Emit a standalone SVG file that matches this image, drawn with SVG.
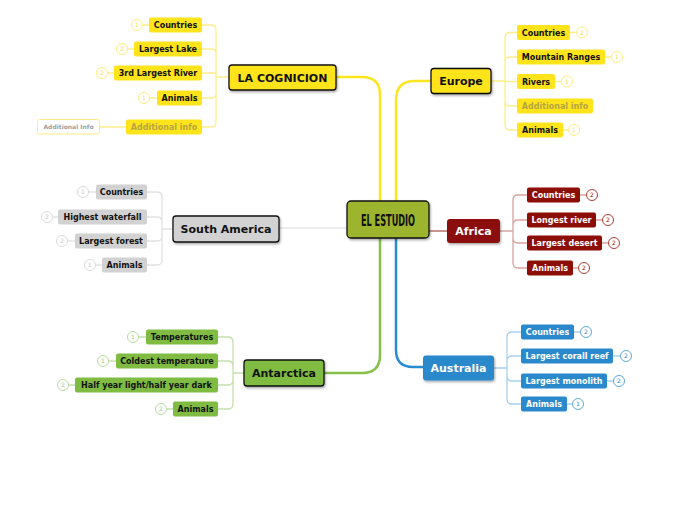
<svg xmlns="http://www.w3.org/2000/svg" width="696" height="520" viewBox="0 0 696 520">
<defs>
<filter id="sh" x="-20%" y="-30%" width="140%" height="170%">
<feDropShadow dx="1" dy="1.5" stdDeviation="1" flood-color="#000" flood-opacity="0.35"/>
</filter>
</defs>
<style>
text{font-family:"DejaVu Sans","Verdana",sans-serif;font-weight:bold;text-anchor:middle}
.main text{font-size:11px}
.c text{font-size:8px}
.b text{font-size:6px;font-weight:normal}
.mainbox{stroke:#111;stroke-width:1.3;filter:url(#sh)}
.y rect{fill:#ffe41c}
.g rect{fill:#d2d2d2}
.r rect{fill:#8c0e07}
.gr rect{fill:#80bc42}
.bl rect{fill:#2a89cb}
.w text{fill:#fff}
.k text{fill:#111}
.fade{fill:#b5a442}
.b circle{fill:#fff;stroke-width:1}
.by circle{stroke:#fdec84}.by text{fill:#f5dc60}
.bg circle{stroke:#dcdcdc}.bg text{fill:#c8c8c8}
.br circle{stroke:#a8403a}.br text{fill:#8c0e07}
.bgr circle{stroke:#b9dc9f}.bgr text{fill:#9ccc78}
.bb circle{stroke:#5fa8dd}.bb text{fill:#2a89cb}
#connectors path{fill:none}
.ly{stroke:#fdef8c;stroke-width:1.3}
.lg{stroke:#e2e2e2;stroke-width:1.3}
.lr{stroke:#d9a3a0;stroke-width:1.3}
.lgr{stroke:#c3e0ae;stroke-width:1.3}
.lb{stroke:#a9d1ef;stroke-width:1.3}
</style>
<rect width="696" height="520" fill="#fff"/>
<g id="connectors">
<!-- main -->
<path d="M336,77 H362 Q380,77 380,95 V201" stroke="#fde51f" stroke-width="2.5"/>
<path d="M396,201 V100 Q396,81 415,81 H431" stroke="#fde51f" stroke-width="2.5"/>
<path d="M279,228 H347" stroke="#e6e6e6" stroke-width="1.5"/>
<path d="M429,231 H447" stroke="#9a2a25" stroke-width="1"/>
<path d="M380,238 V355 Q380,373 362,373 H324" stroke="#86c049" stroke-width="2.5"/>
<path d="M396,238 V350 Q396,367 413,367 H423" stroke="#2a8cd0" stroke-width="2.5"/>
<!-- LA COGNICION -->
<path class="ly" d="M229,77 H216 M216,77 V30 Q216,25 211,25 H202 M216,77 V54 Q216,49 211,49 H202 M216,77 V75 Q216,73 214,73 H202 M216,77 V93 Q216,98 211,98 H202 M216,77 V122 Q216,127 211,127 H202"/>
<path class="ly" d="M142.5,25 H149 M127.5,49 H134 M107.5,73 H114 M149.5,98 H157 M100,127 H126"/>
<!-- Europe -->
<path class="ly" d="M491,81 H505 M505,81 V37.5 Q505,32.5 510,32.5 H517 M505,81 V62 Q505,57 510,57 H517 M505,81.5 H517 M505,81 V101 Q505,106 510,106 H517 M505,81 V125 Q505,130 510,130 H517"/>
<path class="ly" d="M570,32.5 H576.5 M605,57 H611.5 M555,81.5 H561.5 M563,130 H568.5"/>
<!-- South America -->
<path class="lg" d="M173,229 H162 M162,229 V197 Q162,192 157,192 H147 M162,229 V222 Q162,217 157,217 H147 M162,229 V236 Q162,241 157,241 H147 M162,229 V260 Q162,265 157,265 H147"/>
<path class="lg" d="M88.5,192 H96 M52.5,217 H58 M67.5,241 H75 M95.5,265 H102"/>
<!-- Africa -->
<path class="lr" d="M500,231 H513 M513,231 V200 Q513,195 518,195 H527 M513,231 V225 Q513,220 518,220 H527 M513,231 V238 Q513,243 518,243 H527 M513,231 V263 Q513,268 518,268 H527"/>
<path class="lr" d="M580,195 H586.5 M596,220 H602.5 M602,243 H608.5 M573,268 H578.5"/>
<!-- Antarctica -->
<path class="lgr" d="M244,373 H233 M233,373 V342 Q233,337 228,337 H218 M233,373 V366 Q233,361 228,361 H218 M233,373 V380 Q233,385 228,385 H218 M233,373 V404 Q233,409 228,409 H218"/>
<path class="lgr" d="M138.5,337 H146 M108.5,361 H116 M68.5,385 H75 M166.5,409 H173"/>
<!-- Australia -->
<path class="lb" d="M494,368 H507 M507,368 V337 Q507,332 512,332 H521 M507,368 V361 Q507,356 512,356 H521 M507,368 V376 Q507,381 512,381 H521 M507,368 V399 Q507,404 512,404 H521"/>
<path class="lb" d="M574,332 H580.5 M613,356 H620.5 M607,381 H613.5 M567,404 H572.5"/>
</g>

<g id="center">
<rect x="347" y="201" width="82" height="37" rx="4" fill="#9db52f" class="mainbox"/>
<text x="388" y="225.5" style="font-family:'DejaVu Sans Condensed','DejaVu Sans',sans-serif;font-size:15px" textLength="54" lengthAdjust="spacingAndGlyphs" fill="#111">EL ESTUDIO</text>
</g>

<g id="la-cognicion" class="main y k">
<rect x="229" y="65" width="107" height="25" rx="3" class="mainbox"/>
<text x="282.5" y="81.5">LA COGNICION</text>
</g>
<g id="europe" class="main y k">
<rect x="431" y="68.5" width="60" height="25" rx="3" class="mainbox"/>
<text x="461" y="85">Europe</text>
</g>
<g id="south-america" class="main g k">
<rect x="173" y="216" width="106" height="26" rx="3" class="mainbox"/>
<text x="226" y="233">South America</text>
</g>
<g id="africa" class="main r w">
<rect x="447" y="219" width="53" height="24" rx="3" style="filter:url(#sh)"/>
<text x="473.5" y="235">Africa</text>
</g>
<g id="antarctica" class="main gr k">
<rect x="244" y="360" width="80" height="26" rx="3" class="mainbox"/>
<text x="284" y="377">Antarctica</text>
</g>
<g id="australia" class="main bl w">
<rect x="423" y="355.5" width="71" height="25" rx="3" style="filter:url(#sh)"/>
<text x="458.5" y="372">Australia</text>
</g>

<!-- LA COGNICION children -->
<g id="lc-countries"><g class="c y k"><rect x="149" y="17.5" width="53" height="15" rx="2"/><text x="175.5" y="28">Countries</text></g><g class="b by"><circle cx="137" cy="25" r="5.5"/><text x="137" y="27">1</text></g></g>
<g id="lc-lake"><g class="c y k"><rect x="134" y="41.5" width="68" height="15" rx="2"/><text x="168" y="52">Largest Lake</text></g><g class="b by"><circle cx="122" cy="49" r="5.5"/><text x="122" y="51">2</text></g></g>
<g id="lc-river"><g class="c y k"><rect x="114" y="65.5" width="88" height="15" rx="2"/><text x="158" y="76">3rd Largest River</text></g><g class="b by"><circle cx="102" cy="73" r="5.5"/><text x="102" y="75">2</text></g></g>
<g id="lc-animals"><g class="c y k"><rect x="157" y="90.5" width="45" height="15" rx="2"/><text x="179.5" y="101">Animals</text></g><g class="b by"><circle cx="144" cy="98" r="5.5"/><text x="144" y="100">1</text></g></g>
<g id="lc-addinfo"><g class="c y"><rect x="126" y="119.5" width="76" height="15" rx="2"/><text x="164" y="130" class="fade">Additional info</text></g></g>
<g id="lc-addinfo-note"><rect x="37.5" y="119.5" width="62" height="14.5" rx="2" fill="#fff" stroke="#fdec84" stroke-width="1"/><text x="68.5" y="129" style="font-size:6px" fill="#a0a0a0">Additional Info</text></g>

<!-- Europe children -->
<g id="eu-countries"><g class="c y k"><rect x="517" y="25" width="53" height="15" rx="2"/><text x="543.5" y="35.5">Countries</text></g><g class="b by"><circle cx="582" cy="32.5" r="5.5"/><text x="582" y="34.5">2</text></g></g>
<g id="eu-mountains"><g class="c y k"><rect x="517" y="49.5" width="88" height="15" rx="2"/><text x="561" y="60">Mountain Ranges</text></g><g class="b by"><circle cx="617" cy="57" r="5.5"/><text x="617" y="59">1</text></g></g>
<g id="eu-rivers"><g class="c y k"><rect x="517" y="74" width="38" height="15" rx="2"/><text x="536" y="84.5">Rivers</text></g><g class="b by"><circle cx="567" cy="81.5" r="5.5"/><text x="567" y="83.5">1</text></g></g>
<g id="eu-addinfo"><g class="c y"><rect x="517" y="98.5" width="76" height="15" rx="2"/><text x="555" y="109" class="fade">Additional info</text></g></g>
<g id="eu-animals"><g class="c y k"><rect x="517" y="122.5" width="46" height="15" rx="2"/><text x="540" y="133">Animals</text></g><g class="b by"><circle cx="574" cy="130" r="5.5"/><text x="574" y="132">1</text></g></g>

<!-- South America children -->
<g id="sa-countries"><g class="c g k"><rect x="96" y="184.5" width="51" height="15" rx="2"/><text x="121.5" y="195">Countries</text></g><g class="b bg"><circle cx="83" cy="192" r="5.5"/><text x="83" y="194">1</text></g></g>
<g id="sa-waterfall"><g class="c g k"><rect x="58" y="209.5" width="89" height="15" rx="2"/><text x="102.5" y="220">Highest waterfall</text></g><g class="b bg"><circle cx="47" cy="217" r="5.5"/><text x="47" y="219">2</text></g></g>
<g id="sa-forest"><g class="c g k"><rect x="75" y="233.5" width="72" height="15" rx="2"/><text x="111" y="244">Largest forest</text></g><g class="b bg"><circle cx="62" cy="241" r="5.5"/><text x="62" y="243">2</text></g></g>
<g id="sa-animals"><g class="c g k"><rect x="102" y="257.5" width="45" height="15" rx="2"/><text x="124.5" y="268">Animals</text></g><g class="b bg"><circle cx="90" cy="265" r="5.5"/><text x="90" y="267">1</text></g></g>

<!-- Africa children -->
<g id="af-countries"><g class="c r w"><rect x="527" y="187.5" width="53" height="15" rx="2"/><text x="553.5" y="198">Countries</text></g><g class="b br"><circle cx="592" cy="195" r="5.5"/><text x="592" y="197">2</text></g></g>
<g id="af-river"><g class="c r w"><rect x="527" y="212.5" width="69" height="15" rx="2"/><text x="561.5" y="223">Longest river</text></g><g class="b br"><circle cx="608" cy="220" r="5.5"/><text x="608" y="222">2</text></g></g>
<g id="af-desert"><g class="c r w"><rect x="527" y="235.5" width="75" height="15" rx="2"/><text x="564.5" y="246">Largest desert</text></g><g class="b br"><circle cx="614" cy="243" r="5.5"/><text x="614" y="245">2</text></g></g>
<g id="af-animals"><g class="c r w"><rect x="527" y="260.5" width="46" height="15" rx="2"/><text x="550" y="271">Animals</text></g><g class="b br"><circle cx="584" cy="268" r="5.5"/><text x="584" y="270">2</text></g></g>

<!-- Antarctica children -->
<g id="an-temps"><g class="c gr k"><rect x="146" y="329.5" width="72" height="15" rx="2"/><text x="182" y="340">Temperatures</text></g><g class="b bgr"><circle cx="133" cy="337" r="5.5"/><text x="133" y="339">1</text></g></g>
<g id="an-coldest"><g class="c gr k"><rect x="116" y="353.5" width="102" height="15" rx="2"/><text x="167" y="364">Coldest temperature</text></g><g class="b bgr"><circle cx="103" cy="361" r="5.5"/><text x="103" y="363">1</text></g></g>
<g id="an-halfyear"><g class="c gr k"><rect x="75" y="377.5" width="143" height="15" rx="2"/><text x="146.5" y="388">Half year light/half year dark</text></g><g class="b bgr"><circle cx="63" cy="385" r="5.5"/><text x="63" y="387">2</text></g></g>
<g id="an-animals"><g class="c gr k"><rect x="173" y="401.5" width="45" height="15" rx="2"/><text x="195.5" y="412">Animals</text></g><g class="b bgr"><circle cx="161" cy="409" r="5.5"/><text x="161" y="411">2</text></g></g>

<!-- Australia children -->
<g id="au-countries"><g class="c bl w"><rect x="521" y="324.5" width="53" height="15" rx="2"/><text x="547.5" y="335">Countries</text></g><g class="b bb"><circle cx="586" cy="332" r="5.5"/><text x="586" y="334">2</text></g></g>
<g id="au-reef"><g class="c bl w"><rect x="521" y="348.5" width="92" height="15" rx="2"/><text x="567" y="359">Largest corall reef</text></g><g class="b bb"><circle cx="626" cy="356" r="5.5"/><text x="626" y="358">2</text></g></g>
<g id="au-monolith"><g class="c bl w"><rect x="521" y="373.5" width="86" height="15" rx="2"/><text x="564" y="384">Largest monolith</text></g><g class="b bb"><circle cx="619" cy="381" r="5.5"/><text x="619" y="383">2</text></g></g>
<g id="au-animals"><g class="c bl w"><rect x="521" y="396.5" width="46" height="15" rx="2"/><text x="544" y="407">Animals</text></g><g class="b bb"><circle cx="578" cy="404" r="5.5"/><text x="578" y="406">1</text></g></g>
</svg>
